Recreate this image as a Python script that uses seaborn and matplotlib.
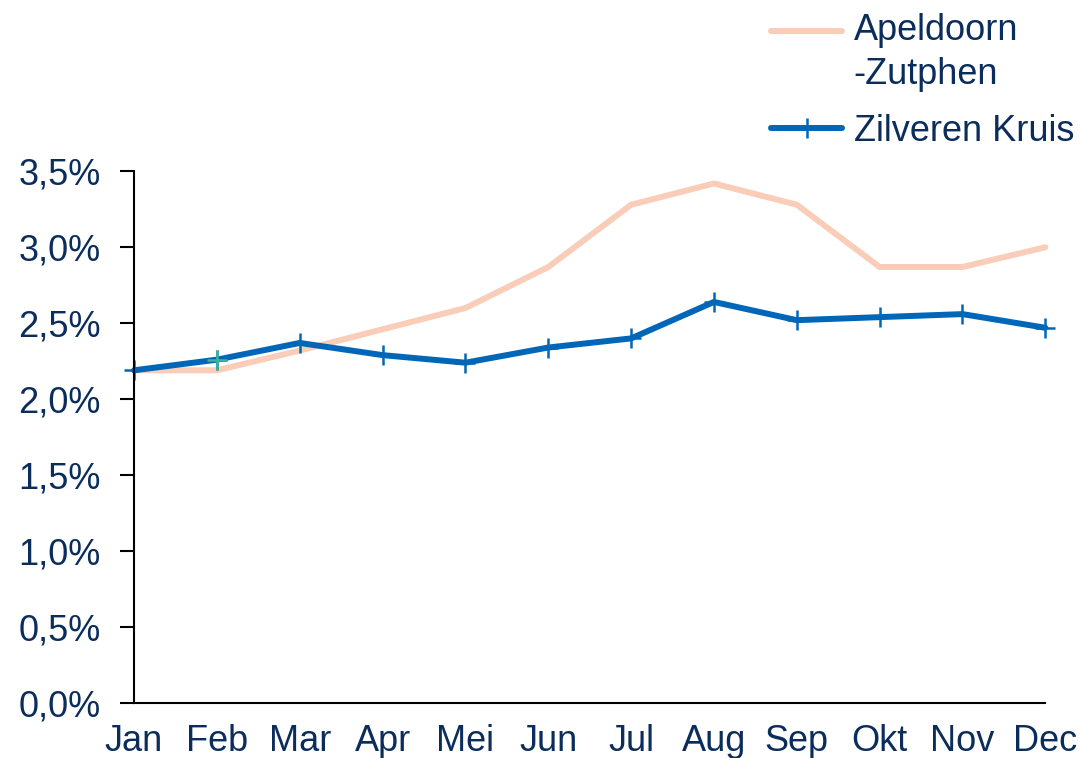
import matplotlib
matplotlib.use("Agg")
import matplotlib.pyplot as plt
import matplotlib.ticker as mticker
import seaborn as sns
import pandas as pd
import numpy as np

months = ["Jan", "Feb", "Mar", "Apr", "Mei", "Jun", "Jul", "Aug", "Sep", "Okt", "Nov", "Dec"]
apeldoorn = [2.19, 2.19, 2.32, 2.46, 2.60, 2.87, 3.28, 3.42, 3.28, 2.87, 2.87, 3.00]
zilveren = [2.19, 2.26, 2.37, 2.29, 2.24, 2.34, 2.40, 2.64, 2.52, 2.54, 2.56, 2.47]
yticks = [0.0, 0.5, 1.0, 1.5, 2.0, 2.5, 3.0, 3.5]

navy = "#0b2d5b"
blue = "#0066b8"
peach = "#f9cdb8"

sns.set_style("white")
plt.rcParams["font.family"] = ["Liberation Sans", "DejaVu Sans"]

df = pd.DataFrame({"pos": np.arange(len(months)), "ap": apeldoorn, "zk": zilveren})

fig = plt.figure(figsize=(10.81, 7.58), dpi=100)
ax = fig.add_axes([0.124, 0.0726, 0.843, 0.7014])

sns.lineplot(data=df, x="pos", y="ap", ax=ax, color=peach, linewidth=4.3,
             label="Apeldoorn\n-Zutphen", solid_capstyle="round", clip_on=False)
sns.lineplot(data=df, x="pos", y="zk", ax=ax, color=blue, linewidth=4.3,
             marker="+", markersize=14, markeredgewidth=1.8, markeredgecolor=blue,
             label="Zilveren Kruis", solid_capstyle="round", clip_on=False)
# the odd teal marker at Feb
ax.plot(df["pos"][1:2], df["zk"][1:2], linestyle="none", marker="+",
        markersize=14, markeredgewidth=1.8, color="#3fb39a", zorder=5, clip_on=False)

ax.set_xlim(0, len(months) - 1)
ax.set_ylim(0, 3.5)
ax.set_xticks(df["pos"])
ax.set_xticklabels(months)
ax.set_yticks(yticks)
ax.yaxis.set_major_formatter(mticker.FuncFormatter(lambda v, p: f"{v:.1f}%".replace(".", ",")))
ax.set_xlabel("")
ax.set_ylabel("")

for s in ["top", "right"]:
    ax.spines[s].set_visible(False)
for s in ["left", "bottom"]:
    ax.spines[s].set_color("black")
    ax.spines[s].set_linewidth(1.5)

ax.tick_params(axis="y", length=10, width=1.5, color="black", direction="out",
               labelsize=26, labelcolor=navy, pad=14, left=True)
ax.tick_params(axis="x", length=0, labelsize=26, labelcolor=navy, pad=15)

ax.get_legend().remove()
handles, labels = ax.get_legend_handles_labels()
leg = fig.legend(handles[:2], labels[:2], loc="upper right", bbox_to_anchor=(1.007, 1.0015),
                 frameon=False, fontsize=26, handlelength=1.95, handletextpad=0.33,
                 labelspacing=0.6, borderaxespad=0)
for t in leg.get_texts():
    t.set_color(navy)
    t.set_linespacing(1.32)
# put the first handle next to the first line of its two-line label
h0 = leg.legend_handles[0]
h0.set_ydata(np.asarray(h0.get_ydata()) + 16)

fig.savefig("out.png", dpi=100)
